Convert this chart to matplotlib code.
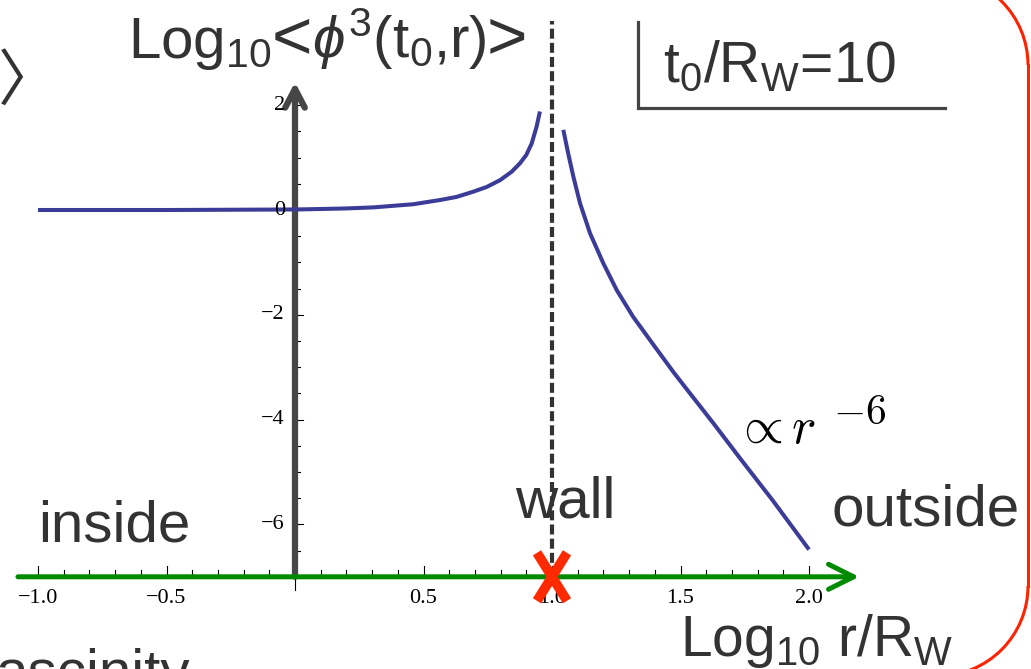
import numpy as np
import matplotlib
matplotlib.use("Agg")
import matplotlib.pyplot as plt
from matplotlib.patches import Arc

# log10(r/R_W) and log10<phi^3(t0, r)> on both sides of the wall
inside_logr = [-1.0, -0.5, 0.0, 0.11, 0.2, 0.305, 0.46, 0.564, 0.629, 0.694,
               0.746, 0.798, 0.843, 0.875, 0.90, 0.921, 0.94, 0.953]
inside_val = [0.0, 0.0, 0.01, 0.02, 0.03, 0.05, 0.11, 0.19, 0.25, 0.35,
              0.44, 0.57, 0.73, 0.89, 1.05, 1.27, 1.59, 1.88]
outside_logr = [1.044, 1.063, 1.083, 1.109, 1.148, 1.2, 1.252, 1.316, 1.381,
                1.472, 1.537, 1.628, 1.732, 1.86, 2.0]
outside_val = [1.53, 1.08, 0.64, 0.13, -0.445, -1.02, -1.53, -2.04, -2.48,
               -3.09, -3.50, -4.07, -4.74, -5.55, -6.48]

x_major = [-1.0, -0.5, 0.5, 1.0, 1.5, 2.0]
x_labels = ["\u22121.0", "\u22120.5", "0.5", "1.0", "1.5", "2.0"]
y_major = [2, 0, -2, -4, -6]
y_labels = ["2", "0", "\u22122", "\u22124", "\u22126"]
wall_logr = 1.0
y_bottom = -7.0

W, H = 1031, 669
TXT = "#333333"
SANS = ["Liberation Sans", "Noto Sans CJK JP", "DejaVu Sans"]
CJK = ["Noto Sans CJK JP", "DejaVu Sans"]

plt.rcParams["mathtext.fontset"] = "custom"
plt.rcParams["mathtext.rm"] = "Liberation Sans"
plt.rcParams["mathtext.it"] = "Liberation Sans:italic"
plt.rcParams["mathtext.bf"] = "Liberation Sans:bold"

fig = plt.figure(figsize=(W / 100, H / 100), dpi=100)

# pixel layer for the slide labels and frame
lay = fig.add_axes([0, 0, 1, 1])
lay.set_xlim(0, W)
lay.set_ylim(H, 0)
lay.axis("off")

# data layer
ax = fig.add_axes([0, 0, 1, 1])
x0_px, x_scale = 295.0, 257.0
y0_px, y_scale = 210.0, 52.4
ax.set_xlim(-x0_px / x_scale, (W - x0_px) / x_scale)
ax.set_ylim((y0_px - H) / y_scale, y0_px / y_scale)
ax.axis("off")

# --- ticks ---
for k in range(-10, 21):
    xv = k / 10
    if xv == 0:
        continue
    h = 0.21 if k % 5 == 0 else 0.13
    ax.plot([xv, xv], [y_bottom, y_bottom + h], color="black", lw=0.8, zorder=1)
ax.plot([0, 0], [y_bottom, y_bottom - 0.25], color="black", lw=0.8, zorder=1)
for k in range(-13, 5):
    yv = k / 2
    w = 8 / x_scale if k % 4 == 0 else 5 / x_scale
    ax.plot([0, w], [yv, yv], color="black", lw=0.8, zorder=1)

for xv, lab in zip(x_major, x_labels):
    ax.text(xv, y_bottom - 0.42, lab, ha="center", va="center",
            fontsize=16, family="Liberation Serif", color="black")
for yv, lab in zip(y_major, y_labels):
    ax.text(-10 / x_scale, yv, lab, ha="right", va="center",
            fontsize=16, family="Liberation Serif", color="black", zorder=6)

# --- axes arrows ---
ax.annotate("", xy=(2.195, y_bottom), xytext=(-1.078, y_bottom),
            arrowprops=dict(arrowstyle="->,head_length=1.2,head_width=0.6",
                            lw=3.6, color="#008a00", shrinkA=0, shrinkB=0,
                            mutation_scale=15), zorder=3)
ax.annotate("", xy=(0, 2.44), xytext=(0, y_bottom),
            arrowprops=dict(arrowstyle="->,head_length=0.9,head_width=0.47",
                            lw=4.5, color="#464646", shrinkA=0, shrinkB=0,
                            mutation_scale=15), zorder=2)

# --- wall ---
ax.plot([wall_logr, wall_logr], [y_bottom, 3.6], color="#333333", lw=3,
        dashes=(2.4, 1.0), zorder=2)

# --- curves ---
ax.plot(inside_logr, inside_val, color="#3b3b98", lw=2.9, zorder=4,
        solid_capstyle="butt")
ax.plot(outside_logr, outside_val, color="#3b3b98", lw=2.9, zorder=4,
        solid_capstyle="butt")

# wall marker
dx, dy = 15 / x_scale, 24 / y_scale
ax.plot([wall_logr - dx, wall_logr + dx], [y_bottom - dy, y_bottom + dy],
        color="#ff2a00", lw=7, solid_capstyle="butt", zorder=5)
ax.plot([wall_logr - dx, wall_logr + dx], [y_bottom + dy, y_bottom - dy],
        color="#ff2a00", lw=7, solid_capstyle="butt", zorder=5)

# --- rounded red frame (right side only is on the slide) ---
frame = dict(color="#ff2200", lw=2.2)
R = 90
lay.add_patch(Arc((1028 - R, 65), 2 * R, 2 * R, theta1=270, theta2=360,
                  ec=frame["color"], lw=frame["lw"]))
lay.add_patch(Arc((1028 - R, 586), 2 * R, 2 * R, theta1=0, theta2=90,
                  ec=frame["color"], lw=frame["lw"]))
lay.plot([1028, 1028], [65, 586], **frame)

# parameter bracket
lay.plot([637.7, 637.7, 945], [22, 108, 108], color="#444444", lw=2.3,
         solid_joinstyle="miter")

# --- labels ---
lay.text(-2, 100, "\u3009", ha="left", va="baseline", fontsize=44,
         family=CJK, color=TXT)

t1 = lay.text(128, 58, r"Log$_{\mathrm{10}}$", ha="left", va="baseline",
              fontsize=42, family=SANS, color=TXT)
t2 = lay.annotate("<", xy=(1, 58), xycoords=(t1, "data"), ha="left",
                  va="baseline", fontsize=50, family=SANS, color=TXT)
t3 = lay.annotate(r"$\phi^{\mathrm{3}}$(t$_{\mathrm{0}}$,r)", xy=(1, 58),
                  xycoords=(t2, "data"), ha="left", va="baseline",
                  fontsize=42, family=SANS, color=TXT)
lay.annotate(">", xy=(1, 58), xycoords=(t3, "data"), ha="left",
             va="baseline", fontsize=50, family=SANS, color=TXT)

lay.text(663, 82, r"t$_{\mathrm{0}}$/R$_{\mathrm{W}}$=10", ha="left",
         va="baseline", fontsize=41, family=SANS, color=TXT)
lay.text(38, 542, "inside", ha="left", va="baseline", fontsize=42,
         family=SANS, color=TXT)
lay.text(515, 518, "wall", ha="left", va="baseline", fontsize=42,
         family=SANS, color=TXT)
lay.text(831, 525, "outside", ha="left", va="baseline", fontsize=42,
         family=SANS, color=TXT)
lay.text(680, 656, r"Log$_{\mathrm{10}}$ r/R$_{\mathrm{W}}$", ha="left",
         va="baseline", fontsize=41, family=SANS, color=TXT)
lay.text(734, 443, r"$\propto r$", ha="left", va="baseline",
         fontsize=37, math_fontfamily="cm", color="black")
lay.text(833, 424, r"$-6$", ha="left", va="baseline",
         fontsize=30, math_fontfamily="cm", color="black")
lay.text(-4, 690, "ascinity", ha="left", va="baseline", fontsize=42,
         family=SANS, color=TXT)

fig.savefig("out.png", dpi=100)
